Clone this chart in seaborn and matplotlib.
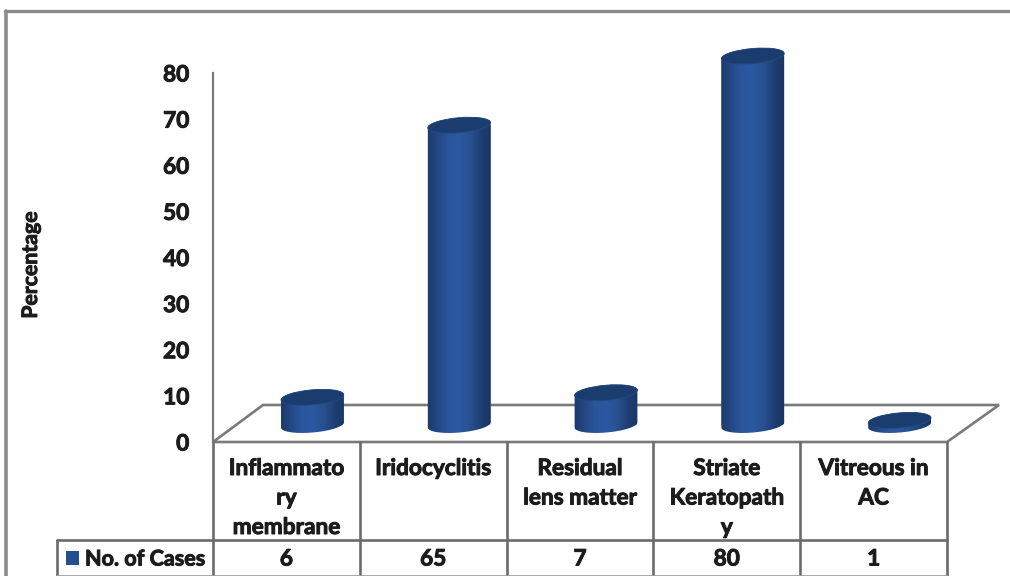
import numpy as np
import pandas as pd
import matplotlib
matplotlib.use("Agg")
import matplotlib.pyplot as plt
import matplotlib.patheffects as pe
from matplotlib.colors import LinearSegmentedColormap
from matplotlib.lines import Line2D
from matplotlib.patches import Ellipse, Polygon, Rectangle
from matplotlib.transforms import Affine2D, IdentityTransform
import seaborn as sns

# ---- data ----
categories = ["Inflammato\nry\nmembrane", "Iridocyclitis", "Residual\nlens matter",
              "Striate\nKeratopath\ny", "Vitreous in\nAC"]
cases = [6, 65, 7, 80, 1]
series_name = "No. of Cases"
y_ticks = [0, 10, 20, 30, 40, 50, 60, 70, 80]

# ---- layout, in pixels from the top-left corner ----
W, H = 1010, 576
AX_LEFT, AX_RIGHT, AX_TOP, AX_BOTTOM = 213, 1000, 30, 442
UNIT_Y = (442 - 73) / 80        # pixels per percentage point
COL_W = (947 - 213) / 5
ROW_Y = 540
LEGEND_LEFT = 57
FLOOR_DX, FLOOR_DY = 50, 37     # depth of the floor parallelogram
BAR_SHIFT = 26                  # bars stand behind the front edge
BAR_W = 63
BASE_UP = 17                    # bar base centre above the front edge
ELL_H, TILT = 15, 5

GRID = "#7a7a7a"
TEXT = "#1c1c1c"
BLUE = "#24508f"
TOP_BLUE = "#1b3c6e"
FS = 16.3

sns.set_theme(style="white")
plt.rcParams["font.family"] = ["Lato", "DejaVu Sans"]
plt.rcParams["font.weight"] = "bold"
heavy = [pe.withStroke(linewidth=0.7, foreground=TEXT)]

fig = plt.figure(figsize=(W / 100, H / 100), dpi=100, facecolor="white")
ax = fig.add_axes([AX_LEFT / W, 1 - AX_BOTTOM / H,
                   (AX_RIGHT - AX_LEFT) / W, (AX_BOTTOM - AX_TOP) / H])
ax.patch.set_alpha(0)
y_max = (AX_BOTTOM - AX_TOP) / UNIT_Y
x_lim = (-0.5, -0.5 + (AX_RIGHT - AX_LEFT) / COL_W)

# pixel coordinates with the origin at the top left
pix = Affine2D().scale(1, -1).translate(0, H)

# floor of the 3-D plot
ax.add_patch(Polygon([(-0.5, 0), (-0.5 + FLOOR_DX / COL_W, FLOOR_DY / UNIT_Y),
                      (4.5 + (FLOOR_DX + 2) / COL_W, FLOOR_DY / UNIT_Y), (4.5, 0)],
                     closed=True, fc="white", ec=GRID, lw=1.9, zorder=1, clip_on=False))

# the columns themselves
frame = pd.DataFrame({"pos": np.arange(5) + BAR_SHIFT / COL_W, "cases": cases})
base = BASE_UP / UNIT_Y
sns.barplot(data=frame, x="pos", y="cases", native_scale=True, width=BAR_W / COL_W,
            color=BLUE, saturation=1, bottom=base, ax=ax, zorder=2, errorbar=None)
ax.set_ylim(0, y_max)
ax.set_xlim(*x_lim)

shade = LinearSegmentedColormap.from_list(
    "column", ["#1a3768", "#22467f", "#2a559c", "#2c58a2", "#27508f", "#1d3d70", "#183361"])
gradient = np.linspace(0, 1, 128)[None, :]
theta = np.radians(TILT)


def ellipse_point(cx, cy, t):
    """Point on a tilted ellipse, in display pixels."""
    a, b = BAR_W / 2, ELL_H / 2
    x, y = a * np.cos(t), b * np.sin(t)
    return cx + x * np.cos(theta) - y * np.sin(theta), cy + x * np.sin(theta) + y * np.cos(theta)


fig.canvas.draw()
for bar in list(ax.patches):
    if not isinstance(bar, Rectangle) or bar.get_height() <= 0 or bar.get_width() > 1:
        continue
    x0, w, y0, h = bar.get_x(), bar.get_width(), bar.get_y(), bar.get_height()
    bx, by = ax.transData.transform((x0 + w / 2, y0))
    tx, ty = ax.transData.transform((x0 + w / 2, y0 + h))

    # outline: lower half of the base ellipse, then across the top ellipse
    lower = np.array(ellipse_point(bx, by, np.linspace(np.pi, 2 * np.pi, 60))).T
    upper = np.array(ellipse_point(tx, ty, np.linspace(0, np.pi, 60))).T
    outline = Polygon(np.vstack([lower, upper]), closed=True, transform=IdentityTransform(),
                      fc="none", ec="none")
    ax.add_artist(outline)
    bar.set_clip_path(outline)
    bar.set_edgecolor("none")

    img = ax.imshow(gradient, cmap=shade, aspect="auto", zorder=2.5, interpolation="bilinear",
                    extent=(x0 - 0.02, x0 + w + 0.02, 0, y0 + h + 3))
    img.set_clip_path(outline)

    ax.add_artist(Ellipse((tx, ty), BAR_W, ELL_H, angle=TILT, transform=IdentityTransform(),
                          fc=TOP_BLUE, ec="#24497f", lw=0.6, zorder=3))

ax.set_ylim(0, y_max)
ax.set_xlim(*x_lim)

# axes furniture
for side in ("top", "right", "bottom"):
    ax.spines[side].set_visible(False)
ax.spines["left"].set_color(GRID)
ax.spines["left"].set_linewidth(1.6)
ax.spines["left"].set_bounds(0, 80)
ax.set_xticks([])
ax.set_xlabel("")
ax.set_yticks(y_ticks)
ax.tick_params(axis="y", length=0, pad=17, labelsize=FS, labelcolor=TEXT)
for lab in ax.get_yticklabels():
    lab.set_fontweight("bold")
    lab.set_path_effects(heavy)
ax.set_ylabel("Percentage", fontsize=15.3, fontweight="bold", color=TEXT, path_effects=heavy)
ax.yaxis.set_label_coords((41 - AX_LEFT) / (AX_RIGHT - AX_LEFT),
                          (AX_BOTTOM - 265) / (AX_BOTTOM - AX_TOP))


def rule(x0, y0, x1, y1, color=GRID, lw=1.9):
    fig.add_artist(Line2D([x0, x1], [y0, y1], transform=pix, color=color, lw=lw, zorder=5))


# outer frame of the figure
rule(5, 11, 1010, 11, "#8c8c8c", 2.4)
rule(6, 11, 6, 576, "#8c8c8c", 2.6)

# data table below the plot
col_edges = [AX_LEFT + COL_W * i for i in range(6)]
for edge in col_edges:
    rule(edge, AX_BOTTOM, edge, 576, "#6b6b6b")
rule(LEGEND_LEFT, ROW_Y, col_edges[-1], ROW_Y, "#6b6b6b")
rule(LEGEND_LEFT, ROW_Y, LEGEND_LEFT, 576, "#6b6b6b")
rule(LEGEND_LEFT, 575.5, col_edges[-1], 575.5, "#9a9a9a", 1.2)

for i, (name, value) in enumerate(zip(categories, cases)):
    cx = AX_LEFT + COL_W * (i + 0.5)
    fig.text(cx, 458, name, transform=pix, ha="center", va="top", fontsize=FS,
             fontweight="bold", color=TEXT, linespacing=1.5, path_effects=heavy)
    fig.text(cx, 559, str(value), transform=pix, ha="center", va="center", fontsize=FS,
             fontweight="bold", color=TEXT, path_effects=heavy)

# legend key and row header
fig.add_artist(Rectangle((66, 551), 13, 14, transform=pix, fc=BLUE, ec="none"))
fig.text(85, 559, series_name, transform=pix, ha="left", va="center", fontsize=15.5,
         fontweight="bold", color=TEXT, path_effects=heavy)

fig.savefig("out.png", dpi=100, facecolor="white")
